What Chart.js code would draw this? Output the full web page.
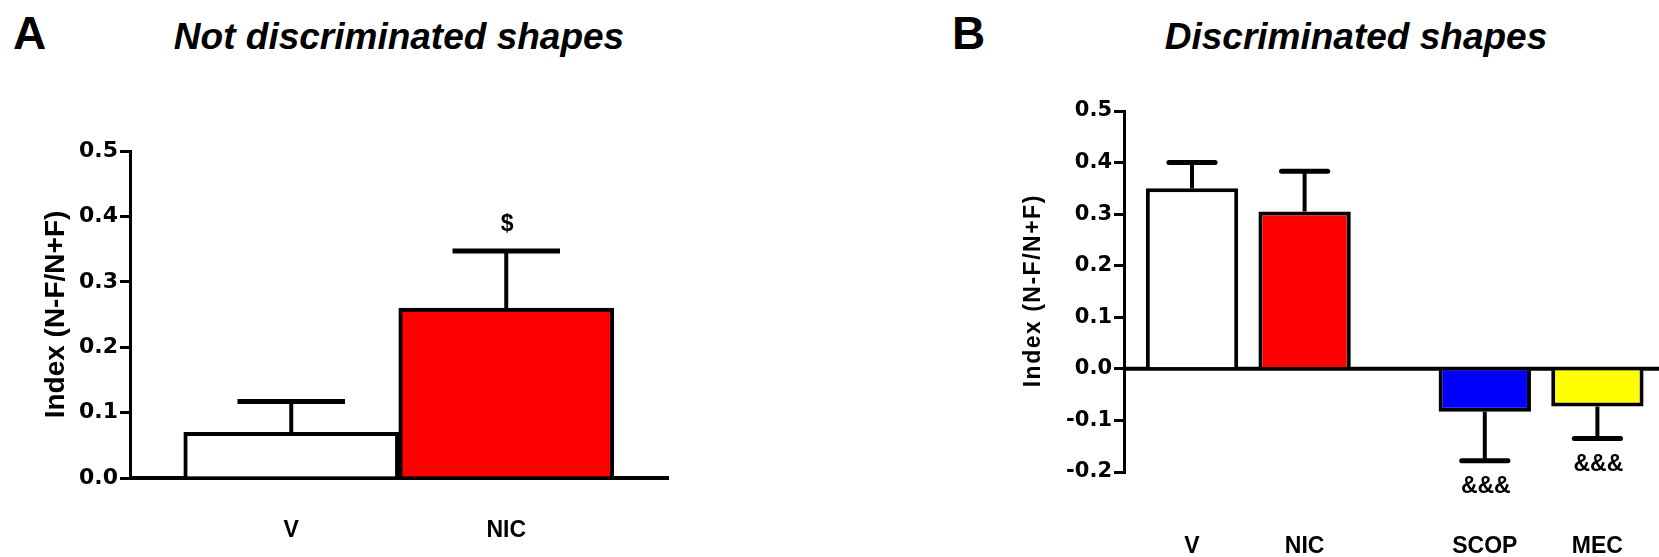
<!DOCTYPE html>
<html>
<head>
<meta charset="utf-8">
<script src="https://cdn.jsdelivr.net/npm/chart.js@4.4.1/dist/chart.umd.min.js"></script>
<style>
  html, body { margin: 0; padding: 0; background: #fff; }
  body { width: 1659px; height: 557px; position: relative; overflow: hidden;
         font-family: "Liberation Sans", Arial, sans-serif; color: #000; }
  .panel { position: absolute; top: 0; }
  .letter { position: absolute; font-weight: bold; font-size: 46px; line-height: 1; }
  .title { position: absolute; font-weight: bold; font-style: italic; font-size: 37px;
           line-height: 1; white-space: nowrap; transform: translateX(-50%); }
</style>
</head>
<body>
<div class="letter" style="left:13px;top:10px">A</div>
<div class="title" style="left:399px;top:18px">Not discriminated shapes</div>
<div class="letter" style="left:952px;top:10px">B</div>
<div class="title" style="left:1356px;top:18px">Discriminated shapes</div>
<div class="panel" style="left:0"><canvas id="chartA" width="800" height="557"></canvas></div>
<div class="panel" style="left:900px"><canvas id="chartB" width="759" height="557"></canvas></div>

<script>
// panel A - not discriminated shapes
const labelsA = ['V', 'NIC'];
const valuesA = [0.07, 0.26];
const semA = [0.047, 0.087];
const marksA = ['', '$'];
const ticksA = [0, 0.1, 0.2, 0.3, 0.4, 0.5];

// panel B - discriminated shapes
const labelsB = ['V', 'NIC', 'SCOP', 'MEC'];
const valuesB = [0.35, 0.305, -0.083, -0.073];
const semB = [0.05, 0.078, 0.095, 0.062];
const marksB = ['', '', '&&&', '&&&'];
const groupsB = [0, 0, 1, 1];
const ticksB = [-0.2, -0.1, 0, 0.1, 0.2, 0.3, 0.4, 0.5];

const colorsA = ['#ffffff', '#ff0000'];
const colorsB = ['#ffffff', '#ff0000', '#0000ff', '#ffff00'];

const FONT = '"Liberation Sans", Arial, sans-serif';
const TICK_FONT = '"DejaVu Sans", sans-serif';
const GROUP_GAP = 0.6;
const AXIS_TITLE = 'Index (N-F/N+F)';

function makeChart(canvasId, p) {
    const xs = p.labels.map((_, i) => i + (p.groups ? p.groups[i] * GROUP_GAP : 0));

    // zero line, error bars, marks and the rotated axis title
    const extras = {
        id: 'extras',
        beforeDatasetsDraw(chart) {
            const ctx = chart.ctx;
            const area = chart.chartArea;
            const y0 = chart.scales.y.getPixelForValue(0);
            ctx.save();
            ctx.strokeStyle = '#000';
            ctx.lineWidth = 4;
            ctx.beginPath();
            ctx.moveTo(area.left, y0);
            ctx.lineTo(area.right, y0);
            ctx.stroke();
            ctx.restore();
        },
        afterDatasetsDraw(chart) {
            const ctx = chart.ctx;
            const ys = chart.scales.y;
            const meta = chart.getDatasetMeta(0);
            ctx.save();
            ctx.strokeStyle = '#000';
            ctx.fillStyle = '#000';
            meta.data.forEach((bar, i) => {
                const v = p.values[i];
                const dir = v < 0 ? -1 : 1;
                const yv = ys.getPixelForValue(v);
                const ye = ys.getPixelForValue(v + dir * p.sem[i]);
                const half = bar.width / 4;
                ctx.lineWidth = 4;
                ctx.lineCap = 'butt';
                ctx.beginPath();
                ctx.moveTo(bar.x, yv);
                ctx.lineTo(bar.x, ye);
                ctx.stroke();
                ctx.lineWidth = 5;
                ctx.lineCap = p.capStyle;
                ctx.beginPath();
                ctx.moveTo(bar.x - half, ye);
                ctx.lineTo(bar.x + half, ye);
                ctx.stroke();
                if (p.marks[i]) {
                    ctx.font = 'bold 23px ' + FONT;
                    ctx.textAlign = 'center';
                    ctx.textBaseline = 'middle';
                    ctx.fillText(p.marks[i], bar.x + 1, ye - dir * 26);
                }
            });
            ctx.restore();
        },
        afterDraw(chart) {
            const ctx = chart.ctx;
            const area = chart.chartArea;
            ctx.save();
            ctx.translate(p.titleX, (area.top + area.bottom) / 2);
            ctx.rotate(-Math.PI / 2);
            ctx.font = 'bold ' + p.titleSize + 'px ' + FONT;
            ctx.letterSpacing = p.titleSpacing + 'px';
            ctx.textAlign = 'center';
            ctx.textBaseline = 'middle';
            ctx.fillStyle = '#000';
            ctx.fillText(AXIS_TITLE, p.titleSpacing / 2, 0);
            ctx.restore();
        }
    };

    return new Chart(document.getElementById(canvasId), {
        type: 'bar',
        data: {
            datasets: [{
                data: xs.map((x, i) => ({ x: x, y: p.values[i] })),
                backgroundColor: p.colors,
                borderColor: '#000',
                borderWidth: 4,
                borderSkipped: 'start',
                barPercentage: p.barPct,
                categoryPercentage: 1
            }]
        },
        options: {
            responsive: false,
            animation: false,
            events: [],
            layout: { padding: p.padding },
            plugins: {
                legend: { display: false },
                tooltip: { enabled: false }
            },
            scales: {
                x: {
                    type: 'linear',
                    min: p.xMin,
                    max: p.xMax,
                    offset: false,
                    grid: { display: false, drawTicks: false },
                    border: { display: false },
                    afterBuildTicks: s => { s.ticks = xs.map(v => ({ value: v })); },
                    afterFit: s => {
                        s.height = p.xAxisHeight;
                        s.paddingLeft = 0;
                        s.paddingRight = 0;
                    },
                    ticks: {
                        autoSkip: false,
                        maxRotation: 0,
                        padding: p.xLabelPad,
                        color: '#000',
                        font: { family: FONT, size: 23, weight: 'bold' },
                        callback: (v, i) => p.labels[i]
                    }
                },
                y: {
                    min: p.ticks[0],
                    max: p.ticks[p.ticks.length - 1],
                    afterBuildTicks: s => { s.ticks = p.ticks.map(v => ({ value: v })); },
                    afterFit: s => { s.width = p.yAxisWidth; },
                    border: { display: true, color: '#000', width: 3 },
                    grid: { drawOnChartArea: false, drawTicks: true, tickLength: 10, color: '#000', lineWidth: 3 },
                    ticks: {
                        padding: 2,
                        color: '#000',
                        font: { family: TICK_FONT, size: p.tickSize, weight: 'bold' },
                        callback: v => v.toFixed(1)
                    }
                }
            }
        },
        plugins: [extras]
    });
}

makeChart('chartA', {
    labels: labelsA, values: valuesA, sem: semA, marks: marksA, ticks: ticksA,
    colors: colorsA, barPct: 1, capStyle: 'butt',
    xMin: -0.75, xMax: 1.757,
    padding: { top: 151, right: 131, bottom: 0, left: 0 },
    yAxisWidth: 130, xAxisHeight: 79, xLabelPad: 39, tickSize: 22,
    titleX: 56, titleSize: 28, titleSpacing: 0
});

makeChart('chartB', {
    labels: labelsB, values: valuesB, sem: semB, marks: marksB, groups: groupsB, ticks: ticksB,
    colors: colorsB, barPct: 0.82, capStyle: 'round',
    xMin: -0.604, xMax: 4.147,
    padding: { top: 111, right: 0, bottom: 0, left: 0 },
    yAxisWidth: 224, xAxisHeight: 85, xLabelPad: 61, tickSize: 21,
    titleX: 134, titleSize: 23, titleSpacing: 1.5
});
</script>
</body>
</html>
